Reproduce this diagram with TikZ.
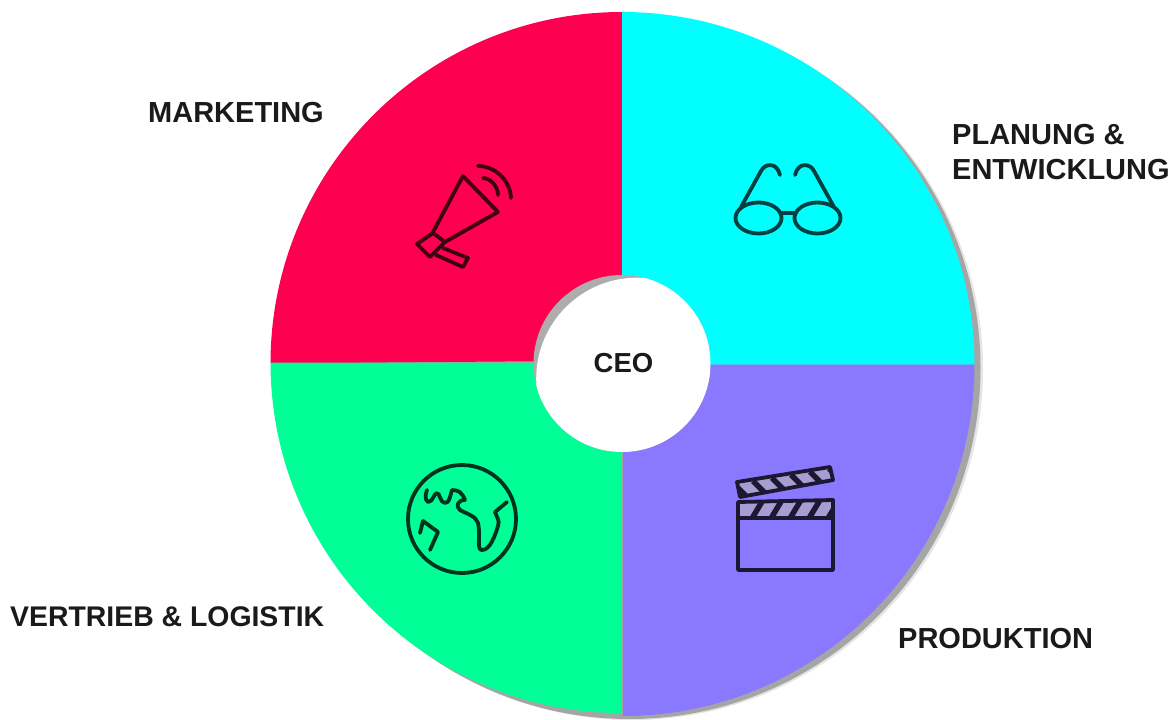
\documentclass[tikz,border=0pt]{standalone}
\usepackage{fontspec}
\setmainfont{Liberation Sans}
\definecolor{cred}{HTML}{FF0050}
\definecolor{ccyan}{HTML}{00FFFF}
\definecolor{cgreen}{HTML}{00FF96}
\definecolor{cpurple}{HTML}{8A78FF}
\definecolor{clilac}{HTML}{A79DD0}
\definecolor{ink}{HTML}{1A1A1A}
\tikzset{
  lbl/.style={font=\fontsize{29}{34}\selectfont\bfseries,text=ink,inner sep=0pt,anchor=west},
  icon/.style={line width=3.8pt,line join=round,line cap=round},
}
\begin{document}
\begin{tikzpicture}[x=1pt,y=-1pt]
\useasboundingbox (0,0) rectangle (1171,720);
\fill[white] (0,0) rectangle (1171,720);
\coordinate (c) at (622,363);
% shadow
\fill[black,opacity=.10] (632,369) circle[radius=351];
\fill[black,opacity=.28] (629.5,368) circle[radius=351];
% sectors
\fill[cred] (622,360.5) -- (622,12) arc[start angle=-90,end angle=-180,radius=351.5] -- cycle;
\fill[ccyan] (622,364.5) -- (622,12) arc[start angle=-90,end angle=0,radius=352.5] -- cycle;
\fill[cgreen] (621,362.5) -- (270.5,362.5) arc[start angle=180,end angle=90,radius=350.5] -- cycle;
\fill[cpurple] (623,364.5) -- (974.5,364.5) arc[start angle=0,end angle=90,radius=351.5] -- cycle;
% centre: grey crescent behind the white disc
\begin{scope}
\clip (622,363.5) circle[radius=88.5];
\fill[black!32!white] (622,363.5) circle[radius=89];
\fill[white] (637.1,378.6) circle[radius=100.9];
\end{scope}
\node[font=\fontsize{27.5}{32}\selectfont\bfseries,text=ink,inner sep=0pt] (ceo) at (623.5,363) {CEO};
% labels
\node[lbl] (marketing) at (148,113) {MARKETING};
\node[lbl] (planung) at (952,135) {PLANUNG \&};
\node[lbl] (entw) at (952,170) {ENTWICKLUNG};
\node[lbl,font=\fontsize{28.4}{34}\selectfont\bfseries] (vertrieb) at (10,617) {VERTRIEB \& LOGISTIK};
\node[lbl] (produktion) at (898,639) {PRODUKTION};
% megaphone
\begin{scope}[icon,draw=black!75!cred]
\draw (433,232) -- (463,176) -- (498,212) -- (445,242);
\draw (433,233) -- (417,244) -- (430,257) -- (445,242) -- cycle;
\draw (443,248) -- (468,258) -- (463,267) -- (436,255);
\draw (478,166) .. controls (495,166) and (510,180) .. (511,198);
\draw (483,178) .. controls (490,178) and (498,186) .. (498,195);
\end{scope}
% glasses
\begin{scope}[icon,draw=black!75!ccyan]
\draw (758.5,218) ellipse[x radius=23,y radius=15.5];
\draw (817.5,218) ellipse[x radius=23,y radius=15.5];
\draw (782,213) -- (795,213);
\draw (741,207) -- (761,171) .. controls (765,163) and (777,162) .. (780,175);
\draw (834,207) -- (814,171) .. controls (810,163) and (798,162) .. (795,175);
\end{scope}
% globe
\begin{scope}[icon,draw=black!80!cgreen]
\draw (462,519) circle[radius=54];
\draw (507,502) -- (495,512) .. controls (497,518) and (500,520) .. (498,526) .. controls (495,536) and (490,550) .. (482,550) .. controls (476,550) and (481,535) .. (478,523) .. controls (476,516) and (467,514) .. (460,510) .. controls (455,506) and (458,500) .. (465,500) .. controls (462,492) and (458,490) .. (452,490) .. controls (450,495) and (450,503) .. (445,503) .. controls (440,503) and (440,493) .. (437,493) .. controls (434,493) and (433,502) .. (428,502) .. controls (425,500) and (425,495) .. (427,490);
\draw (420,533) -- (423,521) -- (438,532) -- (430,550);
\end{scope}
% clapper
\begin{scope}[icon,draw=black!80!cpurple]
\fill[clilac] (737,482) -- (830,467) -- (833,480) -- (740,497) -- cycle;
\fill[clilac] (738,502) -- (833,500) -- (833,518) -- (738,518) -- cycle;
\begin{scope}[line width=5.5pt,line cap=butt]
\begin{scope}
\clip (737,482) -- (830,467) -- (833,480) -- (740,497) -- cycle;
\foreach \x in {-1,0,1,2,3,4}{
  \draw (753+\x*19,481-\x*3.1) -- (765+\x*19,493-\x*3.1);
}
\end{scope}
\begin{scope}
\clip (738,502) -- (833,500) -- (833,518) -- (738,518) -- cycle;
\foreach \x in {0,1,2,3,4}{
  \draw (763+\x*19,500) -- (751+\x*19,520);
}
\end{scope}
\end{scope}
\draw (738,518) rectangle (833,570);
\draw (738,518) -- (738,502) -- (833,500) -- (833,518);
\draw (737,482) -- (830,467) -- (833,480) -- (740,497) -- cycle;
\end{scope}
\end{tikzpicture}
\end{document}
